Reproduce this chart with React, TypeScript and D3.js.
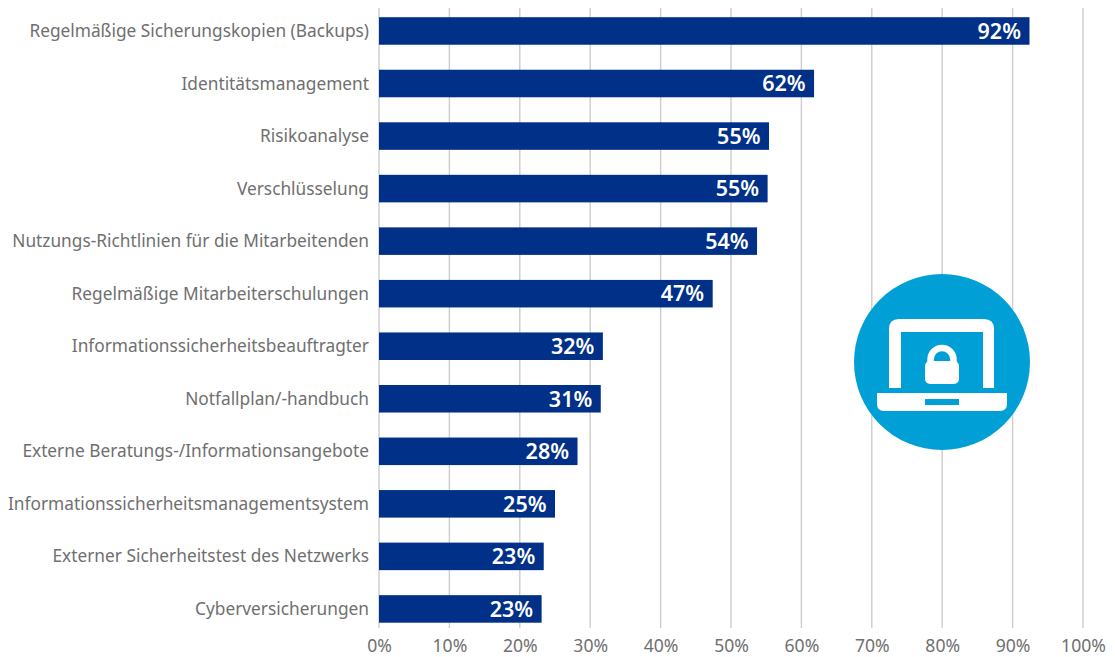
import { useEffect, useRef } from 'react';
import * as d3 from 'd3';

const categories = [
	'Regelmäßige Sicherungskopien (Backups)',
	'Identitätsmanagement',
	'Risikoanalyse',
	'Verschlüsselung',
	'Nutzungs-Richtlinien für die Mitarbeitenden',
	'Regelmäßige Mitarbeiterschulungen',
	'Informationssicherheitsbeauftragter',
	'Notfallplan/-handbuch',
	'Externe Beratungs-/Informationsangebote',
	'Informationssicherheitsmanagementsystem',
	'Externer Sicherheitstest des Netzwerks',
	'Cyberversicherungen',
];
// bar lengths as measured, labels are the printed rounded figures
const values = [92.4, 61.8, 55.4, 55.2, 53.7, 47.4, 31.8, 31.5, 28.2, 25, 23.4, 23.1];
const valueLabels = ['92%', '62%', '55%', '55%', '54%', '47%', '32%', '31%', '28%', '25%', '23%', '23%'];
const xTicks = [0, 10, 20, 30, 40, 50, 60, 70, 80, 90, 100];

const WIDTH = 1115;
const HEIGHT = 657;
const FONT = '"Noto Sans", sans-serif';
const BAR_COLOR = '#003087';
const TEXT_COLOR = '#6f6f6f';
const GRID_COLOR = '#cdcdcd';
const ICON_COLOR = '#00a0d6';

export default function App() {
	const svgRef = useRef<SVGSVGElement>(null);

	useEffect(() => {
		if (!svgRef.current) return;
		const svg = d3.select(svgRef.current);
		svg.selectAll('*').remove();

		const xScale = d3.scaleLinear().domain([0, 100]).range([379, 1083]);
		const yScale = d3.scaleBand().domain(categories).range([4.7, 635.2]).paddingInner(0.476).paddingOuter(0.238);

		// Grid lines
		svg
			.append('g')
			.selectAll('line')
			.data(xTicks)
			.enter()
			.append('line')
			.attr('x1', (d) => xScale(d))
			.attr('x2', (d) => xScale(d))
			.attr('y1', 8)
			.attr('y2', 628)
			.attr('stroke', GRID_COLOR)
			.attr('stroke-width', 1.4);

		// X axis labels
		const axis = svg
			.append('g')
			.attr('transform', 'translate(0,630)')
			.call(d3.axisBottom(xScale).tickValues(xTicks).tickSize(0).tickPadding(10).tickFormat((d) => `${d}%`));
		axis.select('.domain').remove();
		axis.selectAll('text').style('font-family', FONT).style('font-size', '17.6px').style('fill', TEXT_COLOR);

		// Bars
		svg
			.append('g')
			.selectAll('rect')
			.data(values)
			.enter()
			.append('rect')
			.attr('x', xScale(0))
			.attr('y', (_, i) => yScale(categories[i])!)
			.attr('width', (d) => xScale(d) - xScale(0))
			.attr('height', yScale.bandwidth())
			.attr('fill', BAR_COLOR);

		// Category labels
		svg
			.append('g')
			.selectAll('text')
			.data(categories)
			.enter()
			.append('text')
			.attr('x', 369)
			.attr('y', (d) => yScale(d)! + yScale.bandwidth() / 2)
			.attr('dy', '0.35em')
			.attr('text-anchor', 'end')
			.style('font-family', FONT)
			.style('font-size', '17.3px')
			.style('fill', TEXT_COLOR)
			.text((d) => d);

		// Value labels
		svg
			.append('g')
			.selectAll('text')
			.data(values)
			.enter()
			.append('text')
			.attr('x', (d) => xScale(d) - 8.5)
			.attr('y', (_, i) => yScale(categories[i])! + yScale.bandwidth() / 2)
			.attr('dy', '0.36em')
			.attr('text-anchor', 'end')
			.style('font-family', FONT)
			.style('font-size', '21.5px')
			.style('font-weight', 600)
			.style('fill', '#ffffff')
			.text((_, i) => valueLabels[i]);

		// Laptop + lock icon
		const icon = svg.append('g').attr('transform', 'translate(942,362)');
		icon.append('circle').attr('r', 88).attr('fill', ICON_COLOR);
		icon
			.append('path')
			.attr('fill', '#fff')
			.attr('d', 'M-53,26V-33Q-53,-43,-43,-43H42Q52,-43,52,-33V26H41V-30H-41V26Z');
		icon
			.append('path')
			.attr('fill', '#fff')
			.attr('d', 'M-65,31H65V42Q65,49,58,49H-58Q-65,49,-65,42Z');
		icon.append('rect').attr('x', -17).attr('y', 37).attr('width', 34).attr('height', 6).attr('fill', ICON_COLOR);
		icon.append('rect').attr('x', -17).attr('y', -1).attr('width', 34).attr('height', 23).attr('rx', 5).attr('fill', '#fff');
		icon
			.append('path')
			.attr('fill', 'none')
			.attr('stroke', '#fff')
			.attr('stroke-width', 6.5)
			.attr('d', 'M-11.5,1V-2.5A11.5,11.5,0,0,1,11.5,-2.5V1');
	}, []);

	return (
		<svg
			ref={svgRef}
			width={WIDTH}
			height={HEIGHT}
			style={{ position: 'absolute', left: 0, top: 0, background: '#fff' }}
		></svg>
	);
}
